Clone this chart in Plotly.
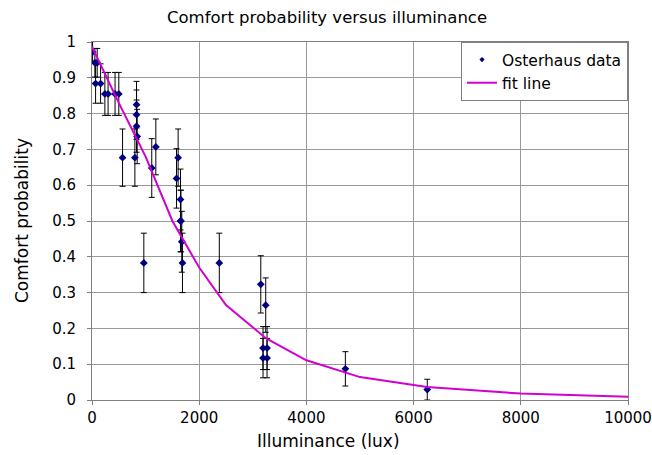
import plotly.graph_objects as go

# Osterhaus data
lux = [11, 54, 97, 67, 160, 240, 300, 430, 500, 570,
       800, 831, 831, 831, 843, 967, 1115, 1191,
       1607, 1577, 1651, 1651, 1660, 1675, 1688,
       2375, 3149, 3241, 3191, 3266, 3191, 3266, 4727, 6255]
prob = [0.972, 0.942, 0.942, 0.884, 0.884, 0.855, 0.855, 0.855, 0.855, 0.677,
        0.677, 0.825, 0.797, 0.765, 0.736, 0.383, 0.648, 0.707,
        0.677, 0.619, 0.560, 0.500, 0.500, 0.442, 0.383,
        0.383, 0.323, 0.265, 0.145, 0.145, 0.117, 0.117, 0.087, 0.029]
err = [0.029, 0.040, 0.040, 0.055, 0.055, 0.060, 0.060, 0.060, 0.060, 0.080,
       0.080, 0.065, 0.069, 0.073, 0.076, 0.083, 0.082, 0.078,
       0.080, 0.083, 0.085, 0.086, 0.086, 0.085, 0.083,
       0.083, 0.080, 0.076, 0.060, 0.060, 0.055, 0.055, 0.048, 0.029]

# Fit line vertices
fit_lux = [0, 500, 1000, 1500, 2000, 2500, 3250, 4000, 5000, 6250, 8000, 10000]
fit_prob = [0.987, 0.83, 0.68, 0.50, 0.37, 0.265, 0.172, 0.111, 0.064, 0.036, 0.018, 0.009]

x_ticks = [0, 2000, 4000, 6000, 8000, 10000]
y_ticks = [0, 0.1, 0.2, 0.3, 0.4, 0.5, 0.6, 0.7, 0.8, 0.9, 1]
y_labels = ["0", "0.1", "0.2", "0.3", "0.4", "0.5", "0.6", "0.7", "0.8", "0.9", "1"]

FONT = "DejaVu Sans"

fig = go.Figure()
fig.add_trace(go.Scatter(
    x=lux, y=prob, mode="markers", name="Osterhaus data", showlegend=False,
    legendgroup="data",
    marker=dict(symbol="diamond", size=6, color="#000080"),
    error_y=dict(type="data", array=err, visible=True, color="#000000",
                 thickness=1, width=3),
))
# legend-only entry with the small symbol used in the reference legend
fig.add_trace(go.Scatter(
    x=[None], y=[None], mode="markers", name="Osterhaus data",
    legendgroup="data",
    marker=dict(symbol="diamond", size=4, color="#000080"),
))
fig.add_trace(go.Scatter(
    x=fit_lux, y=fit_prob, mode="lines", name="fit line",
    line=dict(color="#D000D0", width=2),
))

fig.update_layout(
    width=652, height=455,
    margin=dict(l=92, r=24, t=42, b=55),
    paper_bgcolor="white", plot_bgcolor="white",
    font=dict(family=FONT, color="#000000", size=15),
    showlegend=True,
    legend=dict(x=1, y=1, xanchor="right", yanchor="top",
                bgcolor="white", bordercolor="#808080", borderwidth=1,
                font=dict(size=15.5), tracegroupgap=0, itemwidth=30),
    annotations=[
        dict(text="Comfort probability versus illuminance", xref="paper", yref="paper",
             x=(327 - 92) / 536, y=1, yshift=25, xanchor="center", yanchor="middle",
             showarrow=False, font=dict(size=16.5)),
        dict(text="Illuminance (lux)", xref="paper", yref="paper",
             x=(328 - 92) / 536, y=0, yshift=-41, xanchor="center", yanchor="middle",
             showarrow=False, font=dict(size=17)),
        dict(text="Comfort probability", xref="paper", yref="paper",
             x=0, xshift=-(92 - 22), y=0.5, xanchor="center", yanchor="middle",
             textangle=-90, showarrow=False, font=dict(size=17)),
    ],
)
fig.update_xaxes(
    range=[0, 10000], tickvals=x_ticks, ticktext=[str(v) for v in x_ticks],
    showgrid=True, gridcolor="#999999", gridwidth=1,
    showline=True, linecolor="#808080", linewidth=1, mirror=True,
    ticks="outside", ticklen=4, tickcolor="#808080",
    tickfont=dict(size=15), zeroline=False, automargin=False,
)
fig.update_yaxes(
    range=[0, 1], tickvals=y_ticks, ticktext=y_labels,
    showgrid=True, gridcolor="#999999", gridwidth=1,
    showline=True, linecolor="#808080", linewidth=1, mirror=True,
    ticks="outside", ticklen=4, tickcolor="#808080",
    tickfont=dict(size=15), zeroline=False, automargin=False,
    ticklabelstandoff=8,
)

fig.write_html("out.html")
